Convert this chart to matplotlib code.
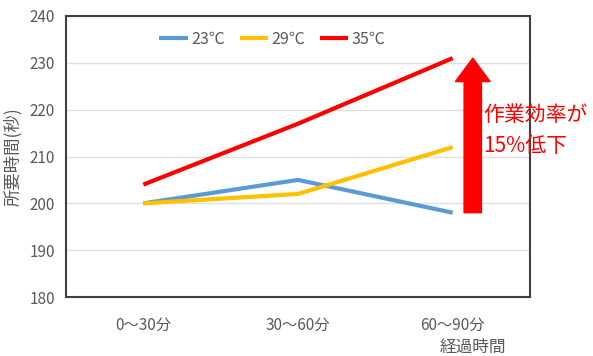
import matplotlib
matplotlib.use("Agg")
import matplotlib.pyplot as plt

plt.rcParams['font.family'] = ['Noto Sans CJK JP', 'DejaVu Sans']

# ====== データ ======
categories = ["0～30分", "30～60分", "60～90分"]
series_names = ["23℃", "29℃", "35℃"]
t23 = [200, 205, 198]
t29 = [200, 202, 212]
t35 = [204, 217, 231]
colors = ["#5B9BD5", "#FFC000", "#FF0000"]

arrow_from, arrow_to = 198, 231
note = "作業効率が\n15%低下"

fig = plt.figure(figsize=(5.93, 3.56), dpi=100)
ax = fig.add_axes([66/593, 1 - 297/356, 464/593, 281/356])

x = range(len(categories))
for vals, name, c in zip([t23, t29, t35], series_names, colors):
    ax.plot(x, vals, color=c, lw=3, label=name, solid_capstyle="butt")

ax.set_xlim(-0.5, 2.5)
ax.set_ylim(180, 240)
ax.set_yticks(range(180, 241, 10))
ax.set_xticks(list(x))
ax.set_xticklabels(categories)
ax.grid(axis="y", color="#e0e0e0", lw=1)
ax.set_axisbelow(True)
for s in ax.spines.values():
    s.set_color("#404040")
    s.set_linewidth(1.5)
ax.tick_params(length=0, colors="#595959", labelsize=11, pad=8)
ax.tick_params(axis="x", pad=14)

ax.set_ylabel("所要時間(秒)", color="#595959", fontsize=12.5, labelpad=5)
ax.text(2.13, 169.2, "経過時間", color="#595959", fontsize=12, ha="center",
        va="center", clip_on=False)

# 矢印
ax.annotate("", xy=(2.13, arrow_to), xytext=(2.13, arrow_from),
            arrowprops=dict(arrowstyle="simple,head_width=2.0,head_length=1.35,tail_width=1.0",
                            color="#FF0000", shrinkA=0, shrinkB=0, mutation_scale=12.5))
ax.text(2.2, 215.6, note, color="#FF0000", fontsize=15, ha="left", va="center",
        linespacing=1.55, clip_on=False)

leg = ax.legend(loc="upper center", ncol=3, frameon=False, fontsize=11.5,
                handlelength=1.8, columnspacing=0.9, handletextpad=0.2,
                bbox_to_anchor=(0.445, 1.0))
for t in leg.get_texts():
    t.set_color("#595959")

fig.savefig("out.png", dpi=100)
